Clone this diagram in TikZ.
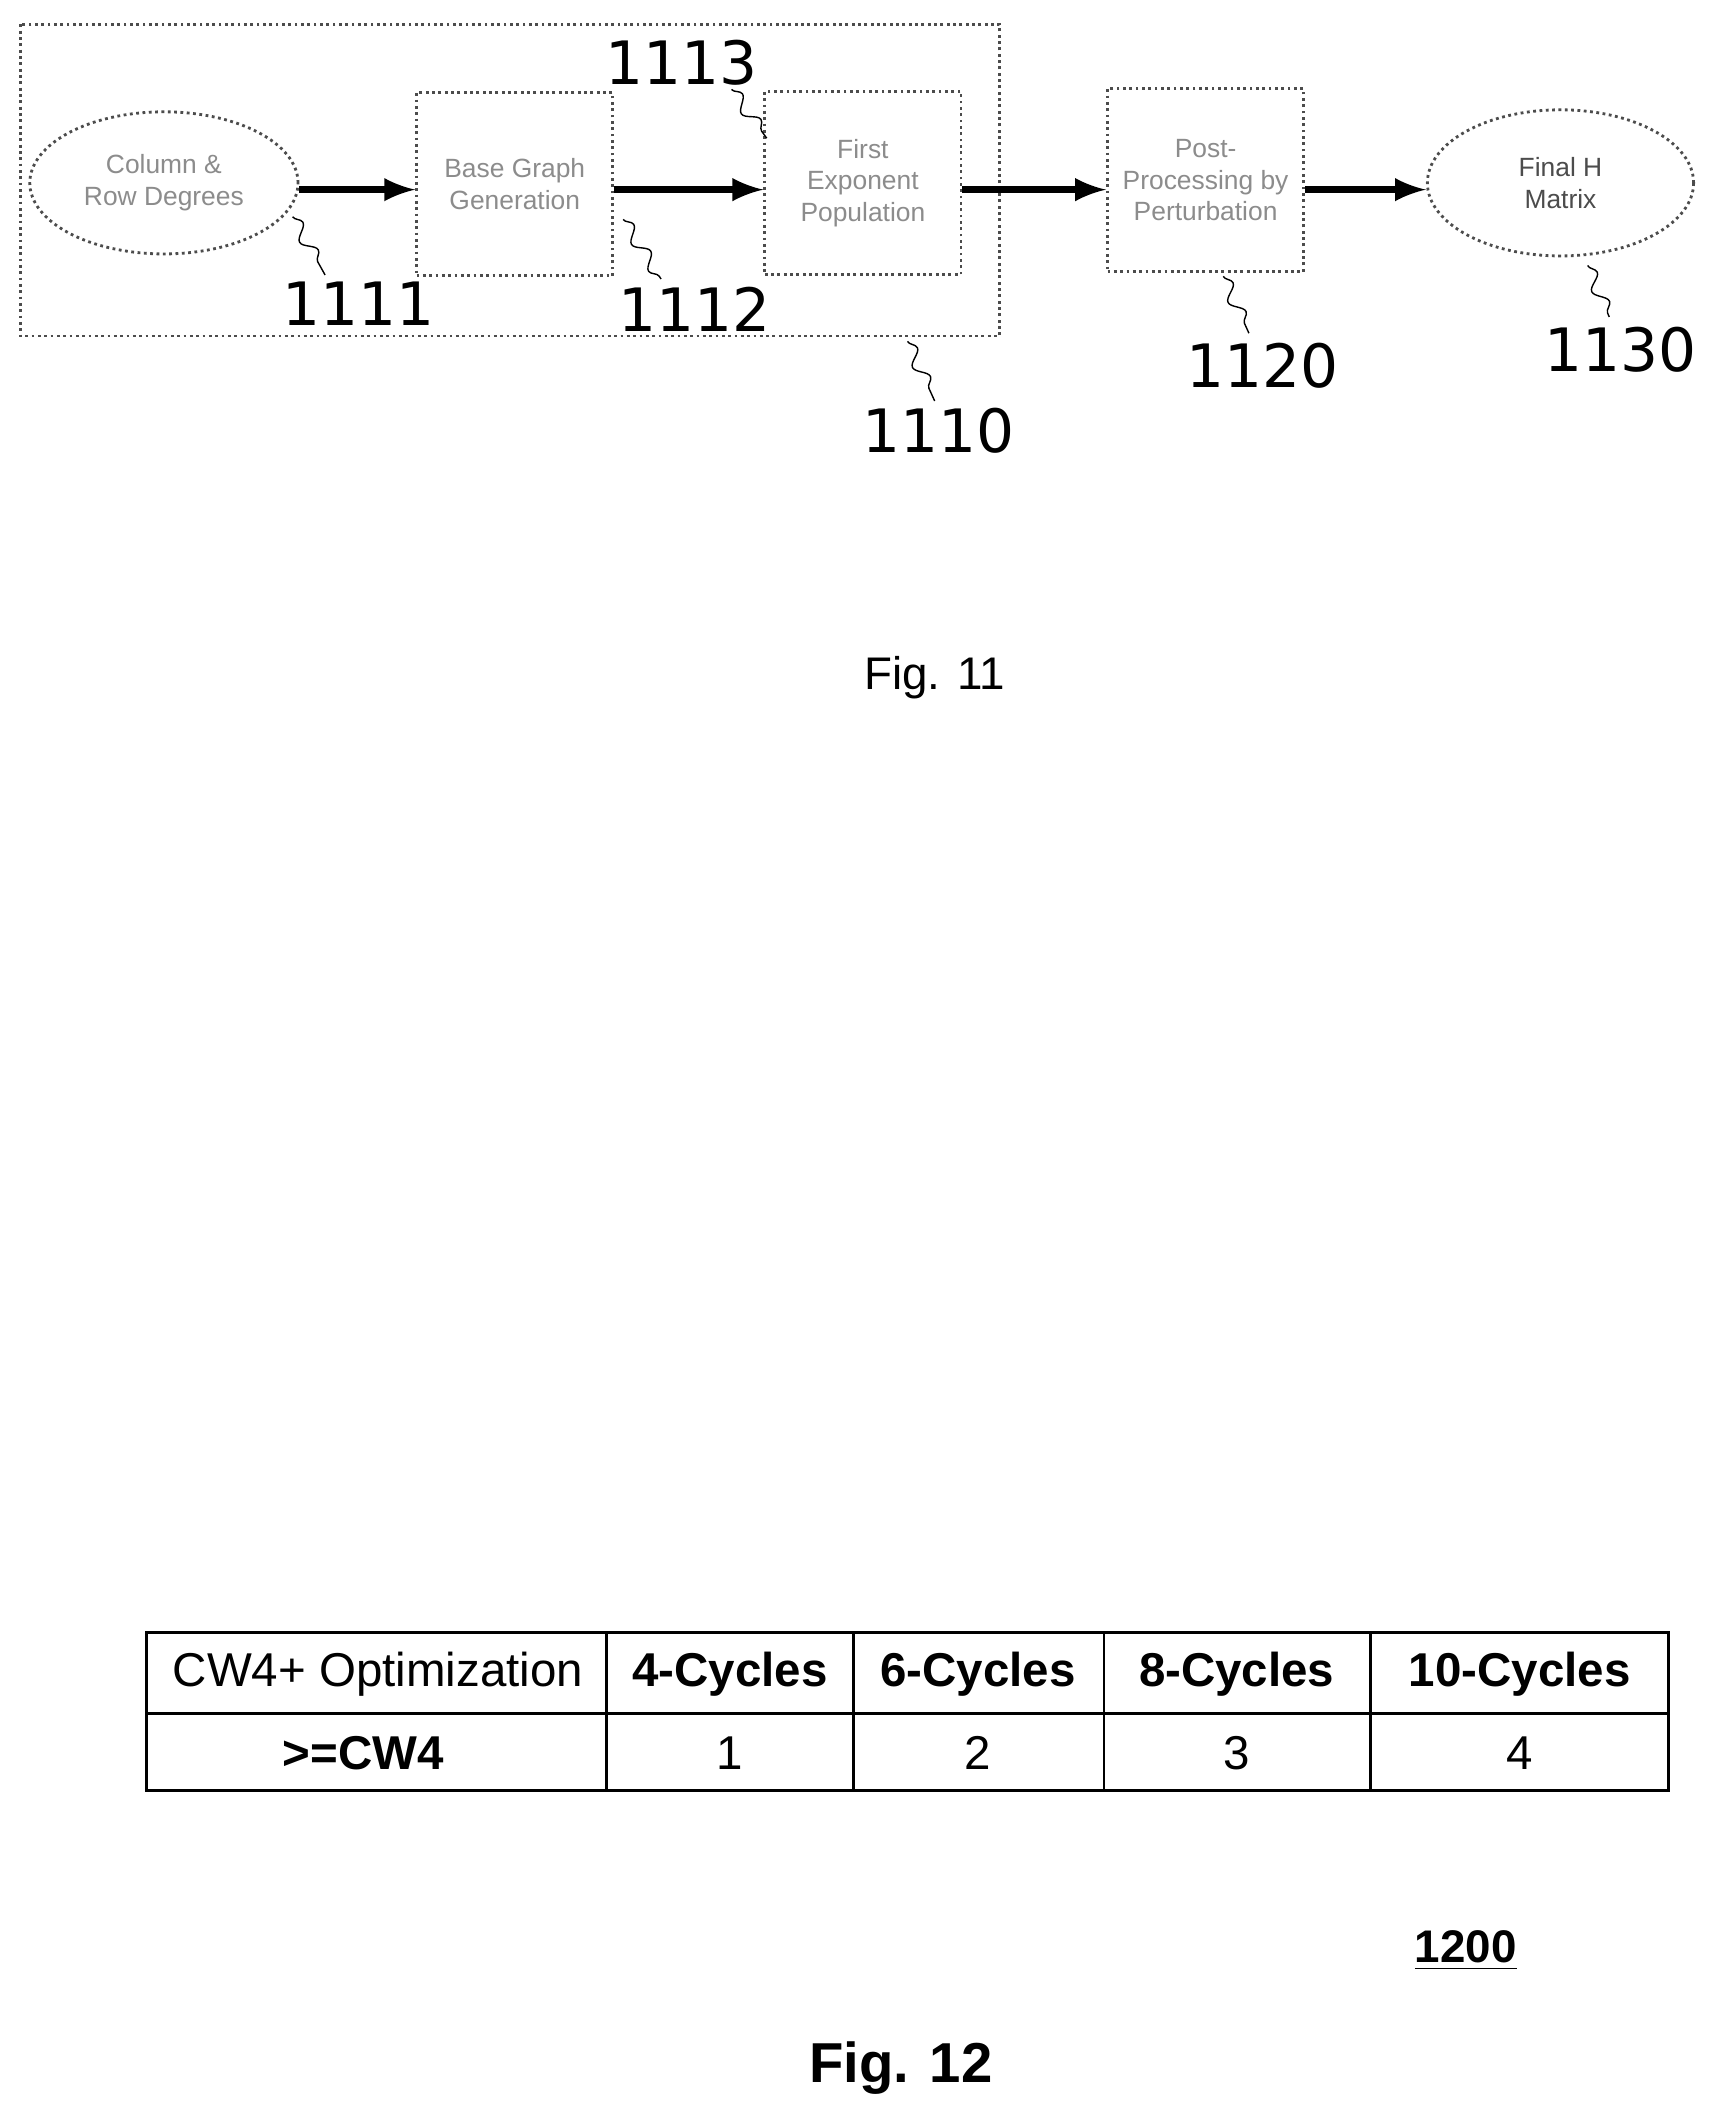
\documentclass[tikz,border=0pt]{standalone}
\usepackage{fontspec}
\setmainfont{Liberation Sans}
\newfontfamily\numfont{DejaVu Sans}
\usetikzlibrary{shapes,arrows,positioning,calc,decorations.pathmorphing}
\tikzset{
  faint/.style={draw=black!70, densely dotted, thick, fill=white, text=black!45, font=\fontsize{7.5}{9}\selectfont, align=center},
  procbox/.style={faint, rectangle, minimum width=1.96cm, minimum height=1.83cm},
  termell/.style={faint, ellipse, minimum width=2.68cm, minimum height=1.42cm},
  flow/.style={-latex, line width=2pt},
  refnum/.style={font=\numfont\fontsize{17}{19}\selectfont},
  leader/.style={decorate, decoration={snake, amplitude=1.8pt, segment length=9pt}, thin},
  cell/.style={font=\fontsize{13.5}{15}\selectfont},
  hcell/.style={font=\fontsize{13.5}{15}\bfseries}
}
\begin{document}
\begin{tikzpicture}[x=0.01354cm, y=-0.01354cm]
\useasboundingbox (0,0) rectangle (1267,1568);

% Fig. 11 flow
\draw[densely dotted, thick, black!70] (15,18) rectangle (738,248);
\node[termell] (degrees) at (121,135) {Column \&\\Row Degrees};
\node[procbox] (basegraph) at (380,136) {Base Graph\\Generation};
\node[procbox] (exponent) at (637,135) {First\\Exponent\\Population};
\node[procbox] (perturb) at (890,133) {Post-\\Processing by\\Perturbation};
\node[termell, minimum width=2.66cm, minimum height=1.46cm] (finalh) at (1152,135) {\textcolor{black!70}{Final H}\\\textcolor{black!70}{Matrix}};

\draw[flow] (degrees.east |- 0,140) -- (basegraph.west |- 0,140);
\draw[flow] (basegraph.east |- 0,140) -- (exponent.west |- 0,140);
\draw[flow] (exponent.east |- 0,140) -- (perturb.west |- 0,140);
\draw[flow] (perturb.east |- 0,140) -- (finalh.west |- 0,140);

% reference numerals
\node[refnum] (n1111) at (265,224) {1111};
\node[refnum] (n1112) at (513,228) {1112};
\node[refnum] (n1113) at (503,46) {1113};
\node[refnum] (n1110) at (693,318) {1110};
\node[refnum] (n1120) at (932,270) {1120};
\node[refnum] (n1130) at (1196,258) {1130};

\coordinate (l1111) at (216,160);
\coordinate (l1112) at (460,162);
\coordinate (l1113) at (566,102);
\coordinate (l1110) at (670,252);
\coordinate (l1120) at (903,204);
\coordinate (l1130) at (1172,196);
\draw[leader] (l1111) -- (240,203);
\draw[leader] (l1112) -- (488,206);
\draw[leader] (540,66) -- (l1113);
\draw[leader] (l1110) -- (690,296);
\draw[leader] (l1120) -- (922,246);
\draw[leader] (l1130) -- (1188,234);

\node[font=\fontsize{13}{15}\selectfont] (fig11) at (690,500) {Fig. 11};

% Fig. 12 table
\draw[thick] (108,1205) rectangle (1232,1322);
\draw[thick] (108,1265) -- (1232,1265);
\foreach \xs in {448,630,815,1012} \draw[thick] (\xs,1205) -- (\xs,1322);
\node[cell] (hopt) at (279,1236) {CW4+ Optimization};
\node[hcell] (h4) at (539,1236) {4-Cycles};
\node[hcell] (h6) at (722,1236) {6-Cycles};
\node[hcell] (h8) at (913,1236) {8-Cycles};
\node[hcell] (h10) at (1122,1236) {10-Cycles};
\node[hcell] (rcw) at (268,1294) {>=CW4};
\node[cell] (v4) at (539,1294) {1};
\node[cell] (v6) at (722,1294) {2};
\node[cell] (v8) at (913,1294) {3};
\node[cell] (v10) at (1122,1294) {4};

\node[font=\fontsize{13}{15}\bfseries] (n1200) at (1082,1440) {\underline{1200}};
\node[font=\fontsize{16}{18}\bfseries] (fig12) at (665,1527) {Fig. 12};
\end{tikzpicture}
\end{document}
